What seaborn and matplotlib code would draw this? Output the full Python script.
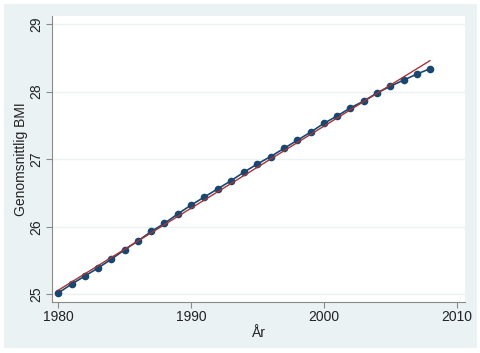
import matplotlib
matplotlib.use("Agg")
import matplotlib.pyplot as plt
import seaborn as sns
import pandas as pd
from matplotlib.patches import Rectangle

# Average BMI per year
years = list(range(1980, 2009))
bmi = [25.02, 25.15, 25.27, 25.39, 25.52, 25.66, 25.79, 25.93, 26.05, 26.19,
       26.32, 26.44, 26.56, 26.68, 26.81, 26.93, 27.04, 27.16, 27.28, 27.40,
       27.53, 27.64, 27.76, 27.86, 27.98, 28.08, 28.17, 28.26, 28.34]

# Fitted trend line endpoints
fit_years = [1980, 2008]
fit_bmi = [25.06, 28.46]

x_ticks = [1980, 1990, 2000, 2010]
y_ticks = [25, 26, 27, 28, 29]

df = pd.DataFrame({"year": years, "bmi": bmi})
fit = pd.DataFrame({"year": fit_years, "bmi": fit_bmi})

sns.set_style("white")
plt.rcParams["font.family"] = ["Liberation Sans", "DejaVu Sans"]

bg = "#eaf2f3"
navy = "#1a476f"
maroon = "#a0353b"

fig = plt.figure(figsize=(4.81, 3.53), dpi=100, facecolor="white")
# Stata-style outer panel
fig.patches.append(Rectangle((4 / 481, 5 / 353), 473 / 481, 344 / 353,
                             transform=fig.transFigure, facecolor=bg,
                             edgecolor="none", zorder=-10))
ax = fig.add_axes([52 / 481, 51 / 353, 413 / 481, 286 / 353])
ax.set_zorder(1)
ax.set_facecolor("white")

sns.lineplot(data=df, x="year", y="bmi", color=navy, marker="o",
             markersize=5.5, markeredgewidth=0, linewidth=1.2, ax=ax, zorder=3)
sns.lineplot(data=fit, x="year", y="bmi", color=maroon, linewidth=1.0,
             ax=ax, zorder=4)

ax.set_xlim(1979.53, 2010.63)
ax.set_ylim(24.886, 29.12)
ax.set_xticks(x_ticks)
ax.set_yticks(y_ticks)
ax.set_yticklabels([str(v) for v in y_ticks], rotation=90, va="center")

ax.grid(axis="y", color=bg, linewidth=1.0)
ax.grid(axis="x", visible=False)
ax.set_axisbelow(True)

for side in ["top", "right"]:
    ax.spines[side].set_visible(False)
for side in ["left", "bottom"]:
    ax.spines[side].set_color("#8a8a8a")
    ax.spines[side].set_linewidth(0.8)

ax.tick_params(axis="both", which="major", direction="out", length=4,
               width=0.8, color="#8a8a8a", labelsize=10, labelcolor="#222222",
               left=True, bottom=True, pad=2)

ax.set_xlabel("År", fontsize=10, color="#222222", labelpad=1)
ax.set_ylabel("Genomsnittlig BMI", fontsize=10, color="#222222", labelpad=1)

fig.savefig("out.png", dpi=100, facecolor="white")
